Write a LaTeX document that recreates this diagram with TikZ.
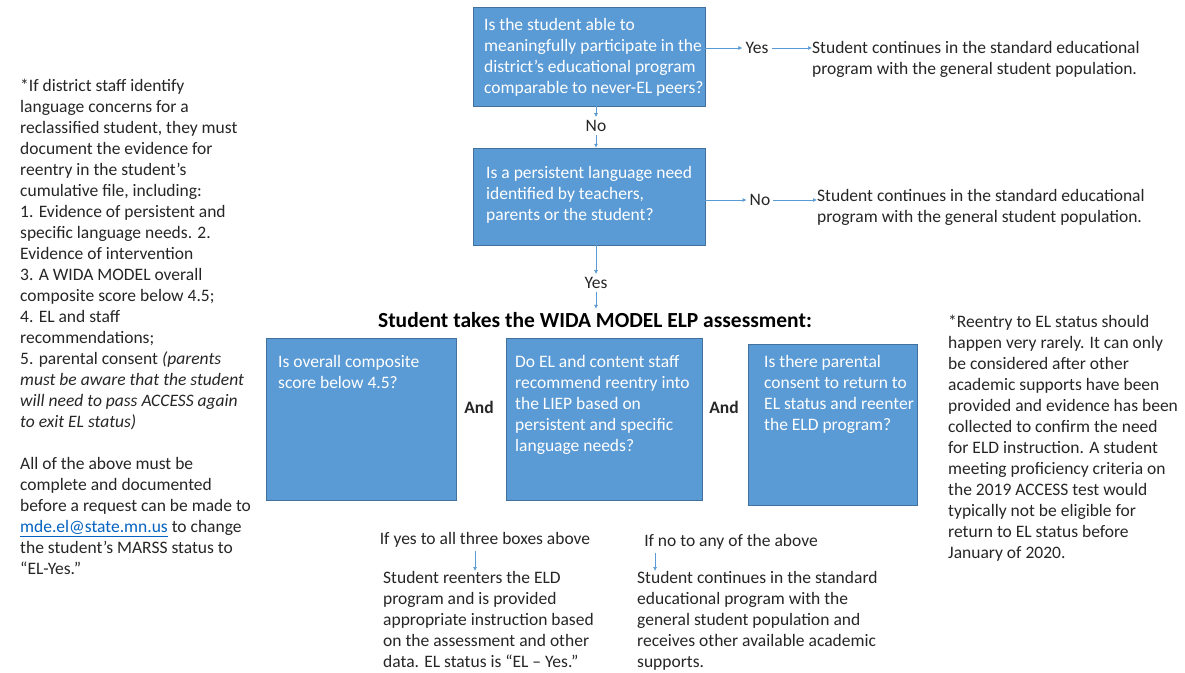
\documentclass[tikz,border=0pt]{standalone}
\usepackage{fontspec}
\setmainfont{Carlito}
\usetikzlibrary{arrows.meta}
\definecolor{boxblue}{HTML}{5B9BD5}
\definecolor{boxedge}{HTML}{41719C}
\definecolor{inkgray}{HTML}{262626}
\definecolor{linkblue}{HTML}{0563C1}

\begin{document}
\begin{tikzpicture}[x=1pt,y=-1pt,
        font=\fontsize{17.5}{21}\selectfont, text=inkgray,
        abox/.style={draw=boxedge, fill=boxblue, inner sep=0pt},
        boxtext/.style={text=white, align=left, inner sep=0pt, anchor=north west},
        note/.style={align=left, inner sep=0pt, anchor=north west},
        lbl/.style={inner sep=3pt},
        flow/.style={draw=boxblue, line width=0.7pt, -{Latex[length=4pt,width=4pt]}}]
        \useasboundingbox[fill=white] (0,0) rectangle (1185,672);

        % questions
        \node[abox, minimum width=232pt, minimum height=99pt] (able) at (589,56.5) {};
        \node[abox, minimum width=232pt, minimum height=97pt] (need) at (589,196.5) {};
        \node[boxtext] at (484,18) {Is the student able to\\meaningfully participate in the\\district’s educational program\\comparable to never-EL peers?};
        \node[boxtext] at (486,166) {Is a persistent language need\\identified by teachers,\\parents or the student?};

        \node[lbl] (yes1) at (757,48) {Yes};
        \node[lbl] (no1) at (596,126) {No};
        \node[lbl] (no2) at (760,200) {No};
        \node[lbl] (yes2) at (596,283) {Yes};

        \node[note] (cont1) at (812,41) {Student continues in the standard educational\\program with the general student population.};
        \node[note] (cont2) at (817,189) {Student continues in the standard educational\\program with the general student population.};

        \draw[flow] (able.east |- yes1) -- (yes1.west);
        \draw[flow] (yes1.east) -- (yes1 -| cont1.west);
        \draw[flow] (no1.north |- able.south) -- (no1.north);
        \draw[flow] (no1.south) -- (no1.south |- need.north);
        \draw[flow] (need.east |- no2) -- (no2.west);
        \draw[flow] (no2.east) -- (no2 -| cont2.west);
        \draw[flow] (yes2.north |- need.south) -- (yes2.north);

        % assessment
        \node[font=\fontsize{21.5}{24}\selectfont\bfseries, text=black] (wida) at (595,320) {Student takes the WIDA MODEL ELP assessment:};
        \draw[flow] (yes2.south) -- (wida.north -| yes2);

        \node[abox, minimum width=190pt, minimum height=162pt] (score) at (361,419) {};
        \node[abox, minimum width=196pt, minimum height=162pt] (staff) at (604,419) {};
        \node[abox, minimum width=169pt, minimum height=161pt] (consent) at (832.5,424.5) {};
        \node[boxtext] at (278,355) {Is overall composite\\score below 4.5?};
        \node[boxtext] at (515,355) {Do EL and content staff\\recommend reentry into\\the LIEP based on\\persistent and specific\\language needs?};
        \node[boxtext] at (764,355) {Is there parental\\consent to return to\\EL status and reenter\\the ELD program?};
        \node[font=\fontsize{17.5}{21}\selectfont\bfseries] (and1) at (479,407) {And};
        \node[font=\fontsize{17.5}{21}\selectfont\bfseries] (and2) at (724,407) {And};

        % outcomes
        \node[lbl] (ifyes) at (485,540) {If yes to all three boxes above};
        \node[lbl] (ifno) at (731,542) {If no to any of the above};
        \node[note] (reenter) at (383,571) {Student reenters the ELD\\program and is provided\\appropriate instruction based\\on the assessment and other\\data. EL status is “EL – Yes.”};
        \node[note] (stay) at (637,571) {Student continues in the standard\\educational program with the\\general student population and\\receives other available academic\\supports.};
        \draw[flow] ([xshift=-10pt]ifyes.south) -- ([xshift=-10pt]ifyes.south |- reenter.north);
        \draw[flow] ([xshift=14pt]ifno.south west) -- ([xshift=14pt]ifno.south west |- stay.north);

        % side notes
        \node[note] (criteria) at (20,79) {*If district staff identify\\language concerns for a\\reclassified student, they must\\document the evidence for\\reentry in the student’s\\cumulative file, including:\\1. Evidence of persistent and\\specific language needs. 2.\\Evidence of intervention\\3. A WIDA MODEL overall\\composite score below 4.5;\\4. EL and staff\\recommendations;\\5. parental consent \textit{(parents}\\\textit{must be aware that the student}\\\textit{will need to pass ACCESS again}\\\textit{to exit EL status)}};
        \node[note] (submit) at (20,457) {All of the above must be\\complete and documented\\before a request can be made to\\\textcolor{linkblue}{\underline{mde.el@state.mn.us}} to change\\the student’s MARSS status to\\“EL-Yes.”};
        \node[note] (rarely) at (948,315) {*Reentry to EL status should\\happen very rarely. It can only\\be considered after other\\academic supports have been\\provided and evidence has been\\collected to confirm the need\\for ELD instruction. A student\\meeting proficiency criteria on\\the 2019 ACCESS test would\\typically not be eligible for\\return to EL status before\\January of 2020.};
    \end{tikzpicture}
\end{document}
